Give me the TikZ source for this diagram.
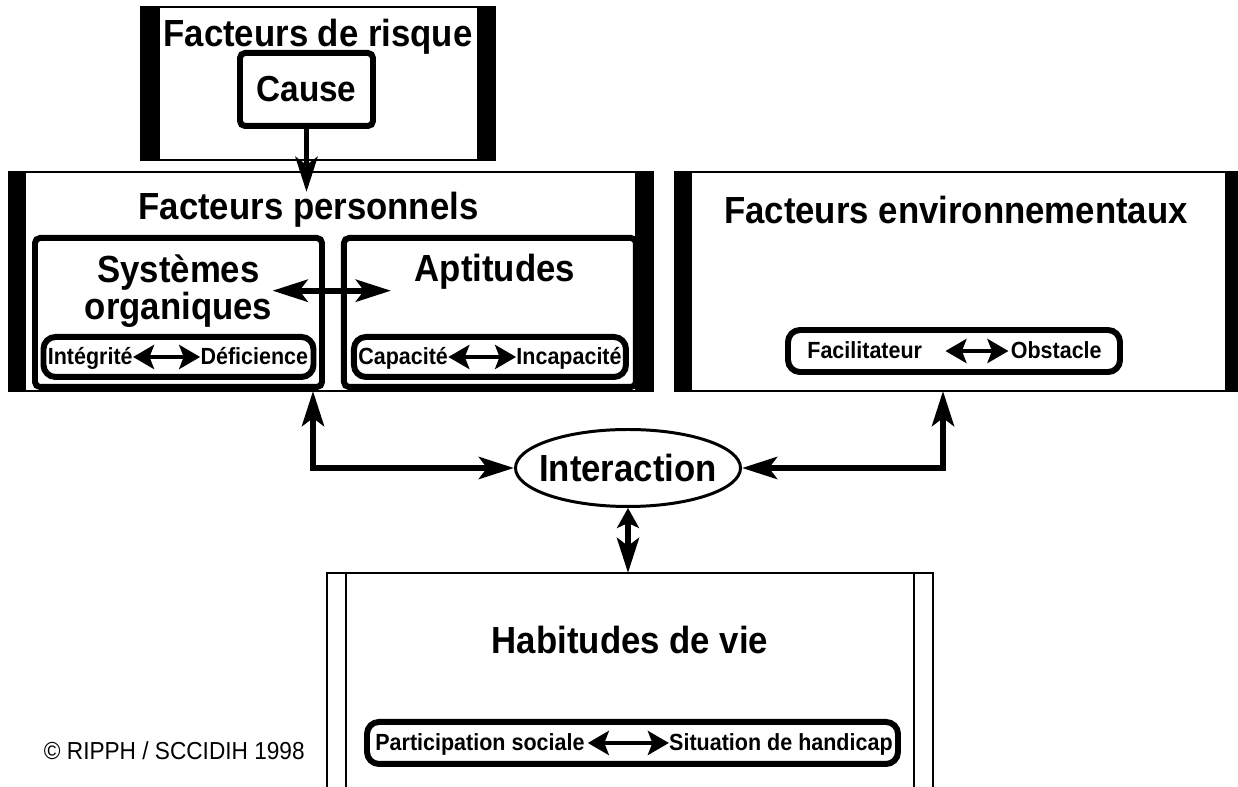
\documentclass[tikz,border=0pt]{standalone}
\usepackage{fontspec}
\setmainfont{Liberation Sans}[FakeStretch=0.92]
\usetikzlibrary{positioning,arrows.meta,shapes.geometric}

\begin{document}
\begin{tikzpicture}[>={Stealth[length=7mm,width=4.4mm,inset=1.6mm]},
    big/.style={line width=3.4pt},
    sm/.style={line width=2.8pt,arrows={Stealth[length=4.2mm,width=4.8mm,inset=0.9mm]-Stealth[length=4.2mm,width=4.8mm,inset=0.9mm]}},
    thin/.style={draw,line width=1.4pt,inner sep=0pt,outer sep=0pt},
    bars/.style 2 args={path picture={
        \fill (path picture bounding box.south west) rectangle ([xshift=#1]path picture bounding box.north west);
        \fill (path picture bounding box.south east) rectangle ([xshift=-#2]path picture bounding box.north east);}},
    b/.style={draw,line width=3.4pt,rounded corners=1mm,inner sep=0pt},
    pill/.style={draw,line width=3.4pt,rounded corners=2.4mm,minimum height=8mm},
    ttl/.style={font=\bfseries\fontsize{21.5}{24}\selectfont,inner sep=0pt},
    lbl/.style={font=\bfseries\fontsize{13.3}{15}\selectfont,inner sep=0pt,text height=3.4mm,text depth=0.4mm}]
  \useasboundingbox (0,0) rectangle (247.6mm,-157.4mm);
  % les trois cadres du haut
  \node[thin,bars={3.4mm}{3.6mm},minimum width=128.8mm,minimum height=43.8mm] (fp) at (66.2mm,-56.3mm) {};
  \node[thin,bars={3.4mm}{2.4mm},minimum width=112.4mm,minimum height=43.8mm,right=4.4mm of fp] (fe) {};
  \node[thin,bars={3.8mm}{3.6mm},minimum width=70.8mm,minimum height=30.6mm,above=2.4mm of fp,xshift=-2.6mm] (fr) {};
  \node[ttl,below=2.4mm of fr.north] (frt) {Facteurs de risque};
  \node[b,ttl,font=\bfseries\fontsize{20.6}{24}\selectfont,minimum width=26.6mm,minimum height=14.6mm,below=8.6mm of fr.north,xshift=-2.3mm] (cause) {Cause};
  % facteurs personnels
  \node[ttl,below=4mm of fp.north,xshift=-4.5mm] (fpt) {Facteurs personnels};
  \node[b,minimum width=57.4mm,minimum height=29.8mm,below right=12.6mm and 4.6mm of fp.north west] (so) {};
  \node[b,minimum width=58.4mm,minimum height=29.8mm,right=3.2mm of so] (ap) {};
  \node[ttl,align=center,font=\bfseries\fontsize{21.5}{16.5}\selectfont,below=3.8mm of so.north] (sot) {Systèmes\\organiques};
  \node[ttl,below=3.8mm of ap.north,xshift=1mm] (apt) {Aptitudes};
  \draw[big,<->] (sot.east) -- ([xshift=10mm]ap.west |- sot.east);
  \node[pill,minimum width=54mm,above=2mm of so.south] (pso) {};
  \node[lbl,right=1.4mm of pso.west] (integ) {Intégrité};
  \node[lbl,left=1.6mm of pso.east] (defic) {Déficience};
  \draw[sm] (integ) -- (defic);
  \node[pill,minimum width=54.4mm,above=2mm of ap.south] (pap) {};
  \node[lbl,right=1.4mm of pap.west] (capa) {Capacité};
  \node[lbl,left=1.4mm of pap.east] (incap) {Incapacité};
  \draw[sm] (capa) -- (incap);
  % facteurs environnementaux
  \node[ttl,below=4.8mm of fe.north] (fet) {Facteurs environnementaux};
  \node[pill,minimum width=66.4mm,minimum height=8.4mm,above=3.2mm of fe.south,xshift=-0.4mm] (pfe) {};
  \node[lbl,right=4.4mm of pfe.west] (facil) {Facilitateur};
  \node[lbl,left=4.2mm of pfe.east] (obst) {Obstacle};
  \draw[sm] ([xshift=4.6mm]facil.east) -- ([xshift=-0.4mm]obst.west);
  % interaction et habitudes de vie
  \node[ellipse,draw,line width=1.7pt,minimum width=45mm,minimum height=15.4mm,inner xsep=-2.2mm,inner ysep=0pt,font=\bfseries\fontsize{21.5}{24}\selectfont,below=7.4mm of fp.south east,xshift=-5mm] (inter) {Interaction};
  \node[thin,minimum width=121.2mm,minimum height=46mm,below=13mm of inter,xshift=0.4mm] (hv) {};
  \draw[line width=1.4pt] ([xshift=3.8mm]hv.north west) -- ([xshift=3.8mm]hv.south west)
    ([xshift=-3.8mm]hv.north east) -- ([xshift=-3.8mm]hv.south east);
  \node[ttl,below=10.6mm of hv.north] (hvt) {Habitudes de vie};
  \node[pill,minimum width=106.2mm,minimum height=8.4mm,below=29.2mm of hv.north,xshift=0.5mm] (phv) {};
  \node[lbl,right=2.2mm of phv.west] (part) {Participation sociale};
  \node[lbl,left=1.6mm of phv.east] (situ) {Situation de handicap};
  \draw[sm] ([xshift=0.6mm]part.east) -- (situ);
  \node[font=\fontsize{14}{16}\selectfont,inner sep=0pt,left=11.8mm of phv,yshift=-1.6mm] (copy) {© RIPPH / SCCIDIH 1998};
  % liens
  \draw[big,->] (cause) -- (cause.south |- fpt.north);
  \draw[big,<->] ([xshift=-3.6mm]fp.south) |- (inter.west);
  \draw[big,<->] ([xshift=-2.6mm]fe.south) |- (inter.east);
  \draw[big,{Stealth[length=4mm,width=4.4mm,inset=1mm]}-{Stealth[length=7mm,width=4.4mm,inset=1.6mm]}] (inter) -- (inter.south |- hv.north);
\end{tikzpicture}
\end{document}
